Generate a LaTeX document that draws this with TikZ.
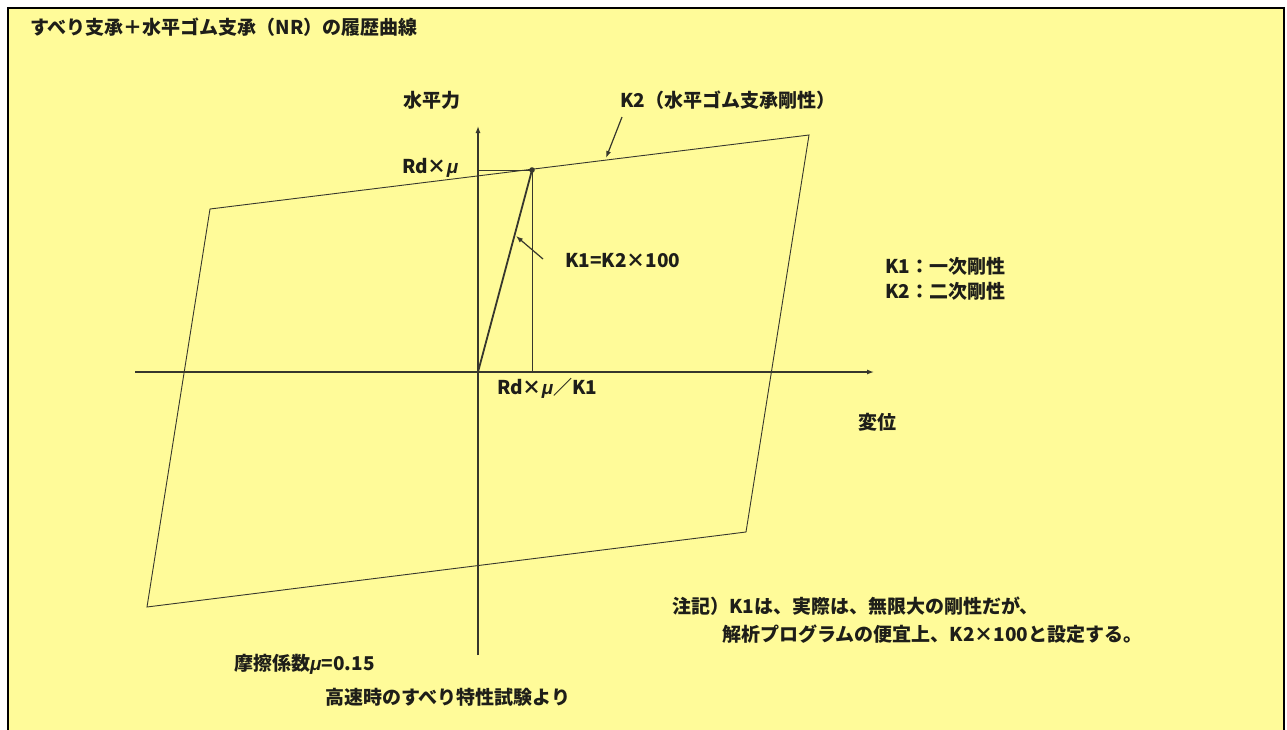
\documentclass[tikz,border=0pt]{standalone}
\usepackage{fontspec}
\setmainfont{Noto Sans CJK JP}
\newfontfamily\mufont{Liberation Sans}
\newcommand{\mymu}{{\mufont\itshape μ}}
\usetikzlibrary{arrows.meta}
\definecolor{bgy}{RGB}{255,251,153}
\definecolor{ln}{RGB}{55,55,45}
\definecolor{tx}{RGB}{30,30,25}
\begin{document}
\begin{tikzpicture}[x=1pt,y=-1pt,
  lbl/.style={inner sep=0pt, anchor=west, text=tx, font=\fontsize{19}{22}\selectfont\bfseries},
  edge/.style={draw=ln, line width=0.9pt},
  thin/.style={draw=ln, line width=0.8pt},
  axis/.style={draw=ln, line width=1.3pt, -{Latex[length=7pt,width=5pt]}},
  kline/.style={draw=ln, line width=1.8pt},
  ptr/.style={draw=ln, line width=1.2pt, -{Latex[length=7pt,width=5pt]}}]
\useasboundingbox (0,0) rectangle (1287,729);
\fill[white] (0,0) rectangle (1287,729);
\begin{scope}
\clip (0,0) rectangle (1287,729);
\filldraw[fill=bgy, draw=black, line width=2.4pt] (8,8) rectangle (1284,740);
\end{scope}
% title
\node[lbl, font=\fontsize{19}{23}\selectfont\bfseries] (title) at (30,27) {すべり支承＋水平ゴム支承（NR）の履歴曲線};
% geometry
\coordinate (O) at (478,372);
\coordinate (P) at (532,170);
\coordinate (Py) at (478,170);
\coordinate (Px) at (532,372);
\coordinate (yb) at (478,655);
\coordinate (yt) at (478,126);
\coordinate (xl) at (135,372);
\coordinate (xr) at (874,372);
\coordinate (A) at (210,209);
\coordinate (B) at (809,135);
\coordinate (C) at (746,532);
\coordinate (D) at (147,607);
% hysteresis loop
\draw[edge] (A) -- (B) -- (C) -- (D) -- cycle;
% axes
\draw[axis] (yb) -- (yt);
\draw[axis] (xl) -- (xr);
% helper lines
\draw[thin] (Py) -- (P);
\draw[thin] (P) -- (Px);
\draw[kline] (O) -- (P);
\fill[ln] (P) circle (2.8);
% pointers
\coordinate (k2s) at (622,117);
\coordinate (k2e) at (606,158);
\draw[ptr] (k2s) -- (k2e);
\coordinate (k1s) at (543,259);
\coordinate (k1e) at (516,236);
\draw[ptr] (k1s) -- (k1e);
% labels
\node[lbl, anchor=center] (fy) at (432,100) {水平力};
\node[lbl] (k2lab) at (620,100) {K2（水平ゴム支承剛性）};
\node[lbl] (rdmu) at (402,168) {Rd×\mymu};
\node[lbl] (k1lab) at (565,261) {K1=K2×100};
\node[lbl] (rdk1) at (497,388) {Rd×\mymu／K1};
\node[lbl] (k1def) at (885,266) {K1：一次剛性};
\node[lbl] (k2def) at (885,291) {K2：二次剛性};
\node[lbl, anchor=center] (disp) at (877,422) {変位};
\node[lbl] (note1) at (672,606) {注記）K1は、実際は、無限大の剛性だが、};
\node[lbl] (note2) at (722,634) {解析プログラムの便宜上、K2×100と設定する。};
\node[lbl] (mu) at (234,664) {摩擦係数\mymu=0.15};
\node[lbl] (src) at (325,697) {高速時のすべり特性試験より};
\end{tikzpicture}
\end{document}
